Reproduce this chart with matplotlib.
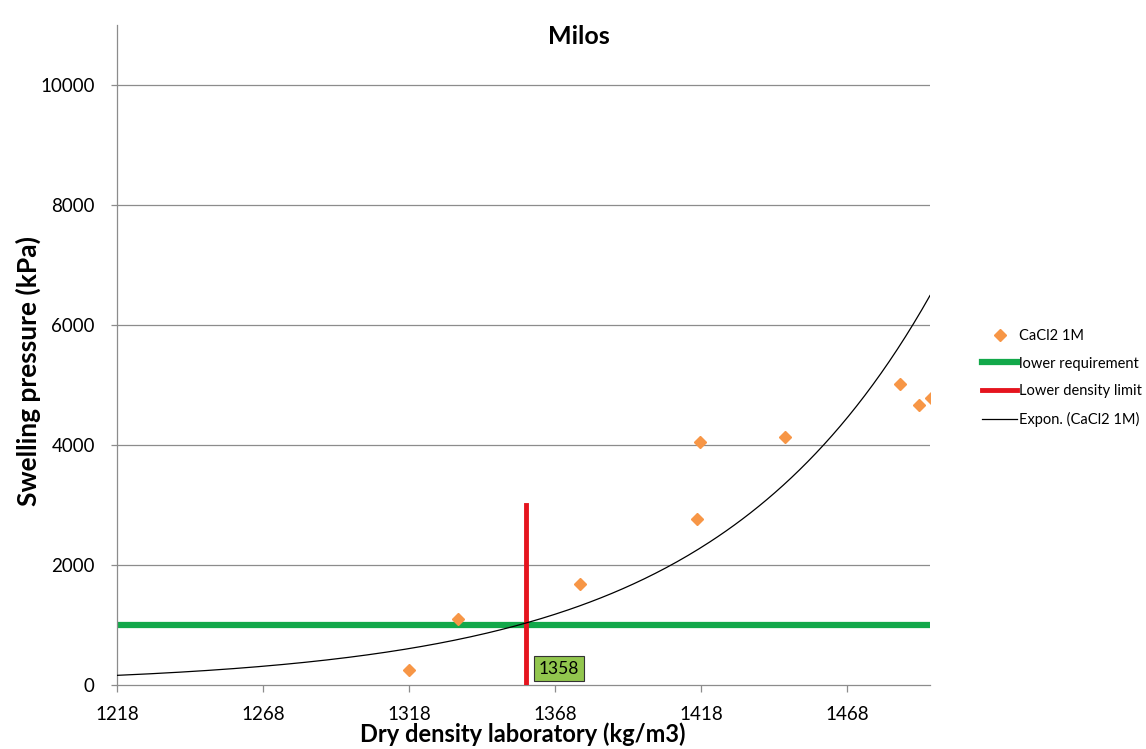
import numpy as np
import matplotlib.pyplot as plt

plt.rcParams['font.family'] = ['Lato', 'DejaVu Sans']

# measured points, CaCl2 1M
dens = [1318, 1334.7, 1376.6, 1416.7, 1417.7, 1446.8, 1486.1, 1492.8, 1496.8]
press = [250, 1098, 1676, 2762, 4043, 4126, 5020, 4670, 4787]

req_press = 1000
dens_limit = 1358
limit_top = 3000

xmin, xmax = 1218, 1496.5
ymin, ymax = 0, 11000
xticks = [1218, 1268, 1318, 1368, 1418, 1468]
yticks = [0, 2000, 4000, 6000, 8000, 10000]

fig = plt.figure(figsize=(11.46, 7.49), dpi=100)
ax = fig.add_axes([117/1146, 1-685/749, (930-117)/1146, (685-25)/749])

# exponential trendline (least squares on log, like Excel)
b, lna = np.polyfit(dens, np.log(press), 1)
xt = np.linspace(xmin, xmax, 300)
yt = np.exp(lna) * np.exp(b * xt)

for y in yticks[1:]:
    ax.axhline(y, color='#8c8c8c', lw=0.9, zorder=0)

ax.plot(dens, press, 'D', color='#F79646', ms=6, label='CaCl2 1M', zorder=4)
ax.plot([xmin, xmax], [req_press, req_press], color='#12A84A', lw=4.5,
        label='lower requirement', zorder=2)
ax.plot([dens_limit, dens_limit], [0, limit_top], color='#E5141E', lw=3.5,
        label='Lower density limit', zorder=3)
ax.plot(xt, yt, color='black', lw=0.9, label='Expon. (CaCl2 1M)', zorder=5)

ax.text(dens_limit + 4.5, 270, str(dens_limit), fontsize=12.5, va='center', ha='left',
        bbox=dict(boxstyle='square,pad=0.25', fc='#92C64E', ec='#333333', lw=0.8))

ax.set_xlim(xmin, xmax)
ax.set_ylim(ymin, ymax)
ax.set_xticks(xticks)
ax.set_yticks(yticks)
ax.tick_params(axis='both', labelsize=13.5, color='#8c8c8c', length=5, width=0.9)
ax.tick_params(axis='x', pad=10)
ax.tick_params(axis='y', length=4, pad=12)
for s in ['top', 'right']:
    ax.spines[s].set_visible(False)
for s in ['left', 'bottom']:
    ax.spines[s].set_color('#8c8c8c')
    ax.spines[s].set_linewidth(0.9)

fig.text(579/1146, 1-36/749, 'Milos', fontsize=18, fontweight='bold', ha='center', va='center')
fig.text(523/1146, 1-734/749, 'Dry density laboratory (kg/m3)', fontsize=17,
         fontweight='bold', ha='center', va='center')
fig.text(28/1146, 1-371/749, 'Swelling pressure (kPa)', fontsize=19,
         fontweight='bold', ha='center', va='center', rotation=90)

ax.legend(loc='center left', bbox_to_anchor=(975/1146, 1-378/749),
          bbox_transform=fig.transFigure, frameon=False, fontsize=10.5,
          borderpad=0, handlelength=2.4, handletextpad=0.1, labelspacing=0.95)

fig.savefig('out.png', dpi=100)
